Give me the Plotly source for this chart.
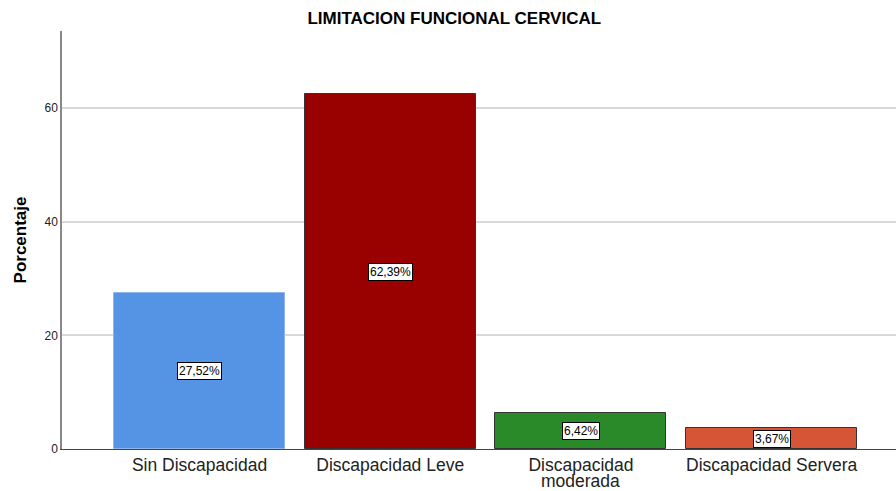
import plotly.graph_objects as go

categories = ["Sin Discapacidad", "Discapacidad Leve", "Discapacidad<br>moderada", "Discapacidad Servera"]
values = [27.52, 62.39, 6.42, 3.67]
labels = ["27,52%", "62,39%", "6,42%", "3,67%"]
colors = ["#5594E4", "#990000", "#2A8A2A", "#D65536"]
outline = ["#8FB6EC", "#333333", "#333333", "#333333"]
yticks = [0, 20, 40, 60]

x = list(range(len(categories)))
fig = go.Figure()
fig.add_trace(go.Bar(
    x=x, y=values, width=0.897,
    marker=dict(color=colors, line=dict(color=outline, width=1)),
    hoverinfo="skip",
))
for xi, v, t in zip(x, values, labels):
    fig.add_annotation(x=xi, y=v / 2, text=t, showarrow=False,
                       bgcolor="white", bordercolor="black", borderwidth=1, borderpad=1,
                       font=dict(family="Liberation Sans", size=12, color="black"))

# first line of each category as tick text; second lines set tighter below
first_lines = [c.split("<br>")[0] for c in categories]
for xi, c in zip(x, categories):
    parts = c.split("<br>")
    for k, extra in enumerate(parts[1:], start=1):
        fig.add_annotation(x=xi, y=0, yref="y", text=extra, showarrow=False,
                           yanchor="top", yshift=-21 - 17 * (k - 1), borderpad=0,
                           font=dict(family="Liberation Sans", size=17.5, color="#222"))

fig.update_layout(
    width=896, height=491,
    margin=dict(l=62, r=0, t=31, b=42),
    plot_bgcolor="white", paper_bgcolor="white",
    showlegend=False,
    font=dict(family="Liberation Sans", color="black"),
    title=dict(text="<b>LIMITACION FUNCIONAL CERVICAL</b>", x=0.507, xanchor="center",
               y=0.963, yanchor="middle", font=dict(size=17, family="Liberation Sans", color="black")),
    xaxis=dict(range=[-0.721, 3.652], tickvals=x, ticktext=first_lines, automargin=False,
               tickfont=dict(size=17.5, color="#222"), showgrid=False, zeroline=False,
               showline=True, linecolor="#444", linewidth=1, ticks=""),
    yaxis=dict(range=[0, 73.55], tickvals=yticks, tickfont=dict(size=12, color="#222"),
               showgrid=True, gridcolor="#D9D9D9", gridwidth=1.5, zeroline=False, automargin=False,
               showline=True, linecolor="#888", linewidth=1.5, ticks="",
               title=dict(text="<b>Porcentaje</b>", font=dict(size=17), standoff=14)),
    bargap=0,
)
fig.write_html("out.html", config={"displayModeBar": False},
               post_script="document.body.style.margin='0';document.body.style.overflow='hidden';")
